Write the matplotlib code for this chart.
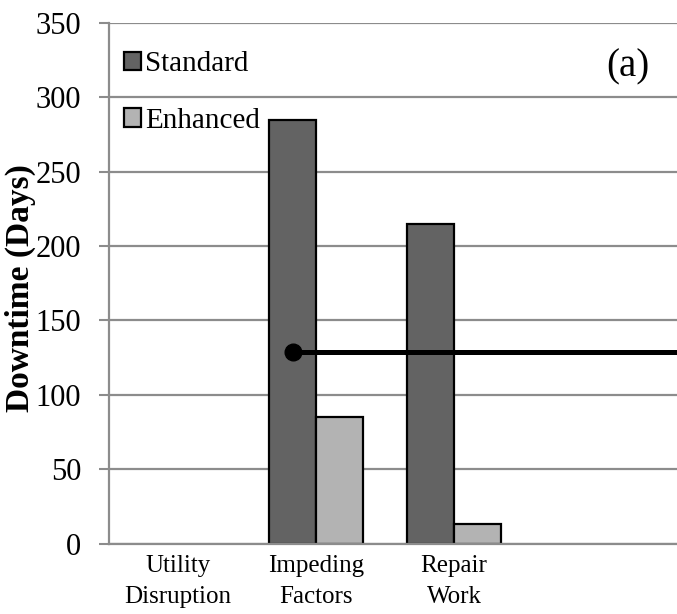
import matplotlib
matplotlib.use("Agg")
import matplotlib.pyplot as plt
from matplotlib.patches import Patch
import numpy as np

# downtime per component, days
categories = ["Utility\nDisruption", "Impeding\nFactors", "Repair\nWork"]
standard = [0, 285, 215]
enhanced = [0, 85, 13]
# horizontal reference line (starts at Impeding Factors / Standard bar)
ref_level = 129

c_std = '#636363'
c_enh = '#b3b3b3'

plt.rcParams['font.family'] = ['Liberation Serif', 'DejaVu Serif']

fig = plt.figure(figsize=(6.77, 6.14), dpi=100)
ax = fig.add_axes([0.161, 0.1148, 0.858, 0.848])
ax.set_axisbelow(True)

x = np.arange(len(categories))
w = 0.34
# zero-height bars get no outline
lw_std = [1.6 if v > 0 else 0 for v in standard]
lw_enh = [1.6 if v > 0 else 0 for v in enhanced]
ax.bar(x - w / 2, standard, w, color=c_std, edgecolor='black', linewidth=lw_std)
ax.bar(x + w / 2, enhanced, w, color=c_enh, edgecolor='black', linewidth=lw_enh)

# line from the standard bar of Impeding Factors running off to the right
ax.plot([x[1] - w / 2, 10], [ref_level, ref_level], color='black', lw=3.6, solid_capstyle='butt', zorder=5)
ax.plot([x[1] - w / 2], [ref_level], 'o', color='black', ms=12, zorder=6)

ax.set_xlim(-0.5, 3.71)
ax.set_ylim(0, 350)
ax.set_yticks(np.arange(0, 351, 50))
ax.set_xticks(x)
ax.set_xticklabels(categories, fontsize=18, linespacing=1.55)
ax.tick_params(axis='x', length=0, pad=8)
ax.tick_params(axis='y', labelsize=22, length=7, width=1.5, color='#8c8c8c', pad=13)

ax.grid(axis='y', color='#8c8c8c', linewidth=1.6)
for s in ['top', 'right']:
    ax.spines[s].set_visible(False)
for s in ['left', 'bottom']:
    ax.spines[s].set_color('#8c8c8c')
    ax.spines[s].set_linewidth(1.6)

ax.set_ylabel('Downtime (Days)', fontsize=24, fontweight='bold')
ax.yaxis.set_label_coords(-0.125, 0.49)

handles = [Patch(facecolor=c_std, edgecolor='black', linewidth=1.6, label='Standard'),
           Patch(facecolor=c_enh, edgecolor='black', linewidth=1.6, label='Enhanced')]
ax.legend(handles=handles, loc='upper left', bbox_to_anchor=(-0.01, 0.985), frameon=False, fontsize=21,
          handlelength=0.6, handleheight=0.6, handletextpad=0.15, labelspacing=1.05,
          borderaxespad=0.3)

ax.text(0.893, 0.915, '(a)', transform=ax.transAxes, fontsize=28, ha='center', va='center')

fig.savefig('out.png', dpi=100)
